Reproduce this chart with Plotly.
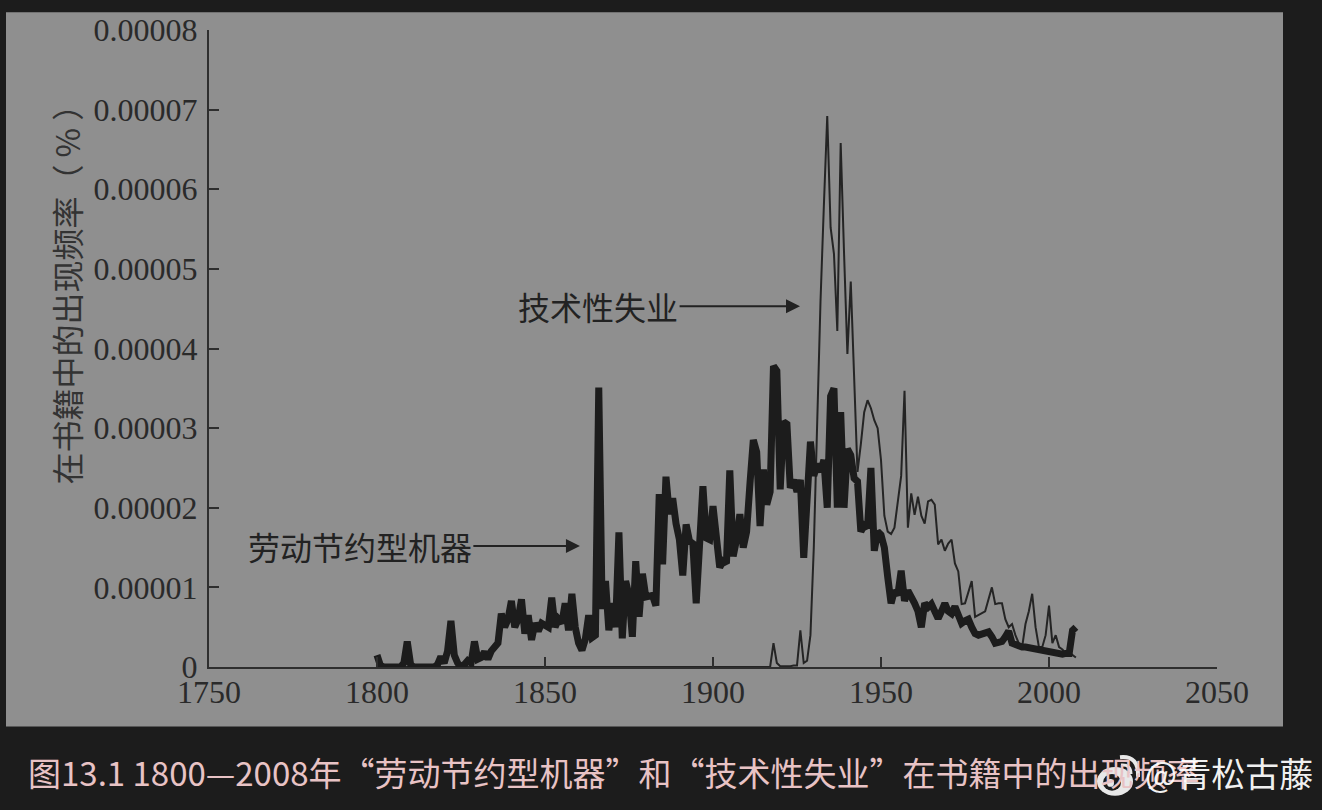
import plotly.graph_objects as go

# ---------------- data (values in units of 1e-7 percent) ----------------
years = list(range(1800, 2009))

labor_saving_machinery = [
    15, 2, 0, 0, 0, 0, 0, 0, 5, 32,            # 1800-1809
    3, 0, 0, 0, 0, 0, 0, 0, 3, 13,             # 1810-1819
    5, 20, 58, 15, 5, 0, 3, 8, 5, 32,          # 1820-1829
    10, 12, 19, 10, 20, 24, 30, 67, 50, 60,    # 1830-1839
    83, 50, 60, 85, 42, 65, 34, 55, 45, 55,    # 1840-1849
    52, 50, 87, 50, 60, 55, 80, 46, 92, 50,    # 1850-1859
    30, 21, 35, 65, 37, 40, 351, 73, 108, 46,  # 1860-1869
    80, 50, 169, 36, 108, 90, 38, 133, 63, 117,     # 1870-1879
    88, 90, 90, 77, 217, 129, 239, 192, 212, 180,   # 1880-1889
    160, 115, 179, 158, 155, 80, 160, 227, 162, 160,  # 1890-1899
    202, 160, 125, 133, 130, 247, 139, 160, 192, 150,  # 1900-1909
    170, 230, 285, 270, 177, 248, 204, 220, 378, 372,  # 1910-1919
    223, 308, 305, 225, 235, 220, 235, 137, 220, 283,  # 1920-1929
    240, 255, 245, 260, 200, 340, 350, 200, 320, 200,  # 1930-1939
    274, 266, 237, 233, 170, 178, 175, 250, 146, 170,  # 1940-1949
    166, 150, 113, 80, 96, 90, 121, 83, 96, 85,        # 1950-1959
    80, 70, 50, 80, 75, 79, 70, 61, 70, 80,            # 1960-1969
    70, 67, 76, 65, 55, 58, 60, 50, 42, 40,            # 1970-1979
    42, 43, 44, 38, 30, 31, 32, 38, 45, 30,            # 1980-1989
    28, 26, 25, 25, 24, 23, 22, 21, 20, 19,            # 1990-1999
    18, 17, 16, 16, 16, 17, 17, 46, 50,                # 2000-2008
]

technological_unemployment = [
    0, 0, 0, 0, 0, 0, 0, 0, 0, 0,   # 1800-1809
    0, 0, 0, 0, 0, 0, 0, 0, 0, 0,   # 1810-1819
    0, 0, 0, 0, 0, 0, 0, 0, 0, 0,   # 1820-1829
    0, 0, 0, 0, 0, 0, 0, 0, 0, 0,   # 1830-1839
    0, 0, 0, 0, 0, 0, 0, 0, 0, 0,   # 1840-1849
    0, 0, 0, 0, 0, 0, 0, 0, 0, 0,   # 1850-1859
    0, 0, 0, 0, 0, 0, 0, 0, 0, 0,   # 1860-1869
    0, 0, 0, 0, 0, 0, 0, 0, 0, 0,   # 1870-1879
    0, 0, 0, 0, 0, 0, 0, 0, 0, 0,   # 1880-1889
    0, 0, 0, 0, 0, 0, 0, 0, 0, 0,   # 1890-1899
    0, 0, 0, 0, 0, 0, 0, 0, 0, 0,   # 1900-1909
    0, 0, 0, 0, 0, 0, 0, 0, 30, 5,  # 1910-1919
    1, 1, 1, 1, 2, 2, 46, 5, 8, 40,            # 1920-1929
    150, 320, 460, 580, 692, 552, 519, 422, 658, 520,  # 1930-1939
    393, 484, 360, 245, 280, 320, 335, 325, 310, 300,  # 1940-1949
    260, 190, 170, 167, 175, 210, 240, 347, 175, 218,  # 1950-1959
    191, 214, 190, 180, 208, 210, 204, 154, 160, 146,  # 1960-1969
    155, 160, 130, 120, 79, 80, 95, 108, 63, 65,       # 1970-1979
    67, 70, 85, 100, 79, 80, 80, 60, 50, 54,           # 1980-1989
    40, 30, 25, 54, 70, 92, 50, 25, 25, 40,            # 1990-1999
    77, 30, 40, 25, 22, 17, 20, 15, 12,                # 2000-2008
]

UNIT = 1e-7

x_tick_vals = [1750, 1800, 1850, 1900, 1950, 2000, 2050]
y_tick_vals = [0, 0.00001, 0.00002, 0.00003, 0.00004, 0.00005, 0.00006, 0.00007, 0.00008]
y_tick_text = ["0", "0.00001", "0.00002", "0.00003", "0.00004", "0.00005",
               "0.00006", "0.00007", "0.00008"]

label_tech = "技术性失业"
label_labor = "劳动节约型机器"
y_title = "在书籍中的出现频率（ % ）"
caption = "图13.1 1800—2008年“劳动节约型机器”和“技术性失业”在书籍中的出现频率"
watermark = "@青松古藤"

# ---------------- figure ----------------
W, H = 1322, 810
ML, MR, MT, MB = 209, 105, 24, 143
PW, PH = W - ML - MR, H - MT - MB


def px(xp):
    return (xp - ML) / PW


def py(yp):
    return (H - MB - yp) / PH


INK = "#222222"
GREY = "#8f8f8f"
DARK = "#1c1c1c"

fig = go.Figure()
fig.add_trace(go.Scatter(
    x=years, y=[v * UNIT for v in technological_unemployment],
    mode="lines", line=dict(color="#242424", width=2), name=label_tech,
    hoverinfo="skip"))
fig.add_trace(go.Scatter(
    x=years, y=[v * UNIT for v in labor_saving_machinery],
    mode="lines", line=dict(color="#1c1c1c", width=7), name=label_labor,
    hoverinfo="skip"))

axis_common = dict(
    showline=True, linecolor="#2e2e2e", linewidth=2,
    ticks="inside", ticklen=10, tickwidth=2, tickcolor="#2e2e2e",
    showgrid=False, zeroline=False, fixedrange=True,
    tickfont=dict(family="Liberation Serif", size=32, color="#2a2a2a"),
)

fig.update_layout(
    width=W, height=H, autosize=False,
    margin=dict(l=ML, r=MR, t=MT, b=MB, pad=0),
    paper_bgcolor=DARK, plot_bgcolor=GREY,
    showlegend=False,
    xaxis=dict(range=[1750, 2050], tickvals=x_tick_vals, ticklabelstandoff=-4,
               **axis_common),
    yaxis=dict(range=[0, 0.00008], tickvals=y_tick_vals, ticktext=y_tick_text,
               ticklabelstandoff=3, **axis_common),
)

# grey panel behind the chart
fig.add_shape(type="rect", xref="paper", yref="paper",
              x0=px(6), x1=px(1283), y0=py(727), y1=py(6),
              fillcolor=GREY, line=dict(width=0), layer="below")

# y-axis title
fig.add_annotation(text=y_title, xref="paper", yref="paper",
                   x=px(66), y=py(283), textangle=-90, showarrow=False,
                   xanchor="center", yanchor="middle",
                   font=dict(family="Noto Sans CJK SC", size=32, color="#333333"))

# arrow labels
fig.add_annotation(text=label_tech, x=1925.9, y=0.0000453,
                   ax=1865.8, ay=0.0000453, axref="x", ayref="y",
                   showarrow=True, arrowhead=2, arrowsize=1.4, arrowwidth=2,
                   arrowcolor=INK, standoff=0,
                   font=dict(family="Noto Sans CJK SC", size=32, color=INK))
fig.add_annotation(text=label_labor, x=1860.4, y=0.0000152,
                   ax=1794.9, ay=0.0000152, axref="x", ayref="y",
                   showarrow=True, arrowhead=2, arrowsize=1.4, arrowwidth=2,
                   arrowcolor=INK, standoff=0,
                   font=dict(family="Noto Sans CJK SC", size=32, color=INK))

# caption
fig.add_annotation(text=caption, xref="paper", yref="paper",
                   x=px(26), y=py(773), xanchor="left", yanchor="middle",
                   showarrow=False,
                   font=dict(family="Noto Sans CJK SC", size=33, color="#e8c3c5"))

# watermark logo (simplified)
fig.add_shape(type="circle", xref="paper", yref="paper",
              x0=px(1097), x1=px(1133), y0=py(797), y1=py(768),
              fillcolor="rgba(255,255,255,0.9)", line=dict(width=0))
fig.add_shape(type="circle", xref="paper", yref="paper",
              x0=px(1103), x1=px(1121), y0=py(792), y1=py(775),
              fillcolor=DARK, line=dict(width=0))
fig.add_shape(type="circle", xref="paper", yref="paper",
              x0=px(1107), x1=px(1114), y0=py(788), y1=py(780),
              fillcolor="rgba(255,255,255,0.9)", line=dict(width=0))
fig.add_shape(type="path", xref="paper", yref="paper",
              path=f"M {px(1120)},{py(758)} Q {px(1139)},{py(756)} {px(1138)},{py(778)}",
              line=dict(color="rgba(255,255,255,0.9)", width=4))
fig.add_shape(type="path", xref="paper", yref="paper",
              path=f"M {px(1121)},{py(766)} Q {px(1131)},{py(765)} {px(1131)},{py(775)}",
              line=dict(color="rgba(255,255,255,0.9)", width=3))

# watermark text
fig.add_annotation(text=watermark, xref="paper", yref="paper",
                   x=px(1143), y=py(773), xanchor="left", yanchor="middle",
                   showarrow=False,
                   font=dict(family="Noto Sans CJK SC", size=34,
                             color="rgba(255,255,255,0.95)"))

fig.write_html("out.html")
